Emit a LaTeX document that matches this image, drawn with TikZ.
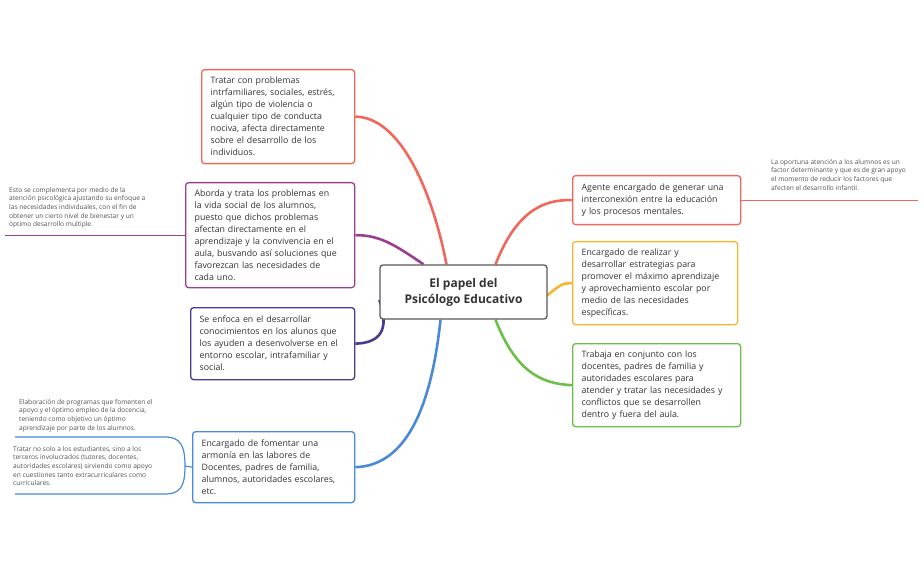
\documentclass[tikz,border=0pt]{standalone}
\usepackage{fontspec}
\setmainfont{Open Sans}
\usetikzlibrary{backgrounds}
\definecolor{cA}{HTML}{F2675B}
\definecolor{cB}{HTML}{9A3F8F}
\definecolor{cC}{HTML}{4A3A90}
\definecolor{cD}{HTML}{4A89D6}
\definecolor{cE}{HTML}{F2675B}
\definecolor{cF}{HTML}{F5B730}
\definecolor{cG}{HTML}{6CC04A}
\definecolor{tx}{HTML}{333333}
\begin{document}
\begin{tikzpicture}[x=1pt,y=-1pt,
  box/.style={draw=#1,line width=1.3pt,rounded corners=3pt,fill=white,anchor=north west,inner xsep=9pt,inner ysep=6pt,align=left,font=\fontsize{8.8}{12}\selectfont,text=tx},
  note/.style={anchor=north west,inner sep=0pt,align=left,font=\fontsize{6.6}{8.6}\selectfont,text=tx!85},
  branch/.style={draw=#1,line width=2.6pt},
  tail/.style={draw=#1,line width=1.2pt}]
\useasboundingbox (0,0) rectangle (924,572);
\node[draw=gray!70!black,line width=1.3pt,rounded corners=3pt,fill=white,minimum width=167pt,minimum height=54pt,align=center,font=\fontsize{12}{16}\selectfont\bfseries,text=tx] (c) at (463.5,292) {El papel del\\Psicólogo Educativo};
\node[box=cA,text width=135pt,minimum height=94pt] (a) at (201,69) {Tratar con problemas\\intrfamiliares, sociales, estrés,\\algún tipo de violencia o\\cualquier tipo de conducta\\nociva, afecta directamente\\sobre el desarrollo de los\\individuos.};
\node[box=cB,text width=151pt,minimum height=105pt] (b) at (185,182) {Aborda y trata los problemas en\\la vida social de los alumnos,\\puesto que dichos problemas\\afectan directamente en el\\aprendizaje y la convivencia en el\\aula, busvando así soluciones que\\favorezcan las necesidades de\\cada uno.};
\node[box=cC,text width=146pt,minimum height=72pt] (cc) at (190,307) {Se enfoca en el desarrollar\\conocimientos en los alunos que\\los ayuden a desenvolverse en el\\entorno escolar, intrafamiliar y\\social.};
\node[box=cD,text width=144pt,minimum height=71pt] (d) at (192,431) {Encargado de fomentar una\\armonía en las labores de\\Docentes, padres de familia,\\alumnos, autoridades escolares,\\etc.};
\node[box=cE,text width=150pt,minimum height=49pt] (e) at (572,175) {Agente encargado de generar una\\interconexión entre la educación\\y los procesos mentales.};
\node[box=cF,text width=147pt,minimum height=83pt] (f) at (572,241) {Encargado de realizar y\\desarrollar estrategias para\\promover el máximo aprendizaje\\y aprovechamiento escolar por\\medio de las necesidades\\específicas.};
\node[box=cG,text width=150pt,minimum height=83pt] (g) at (572,343) {Trabaja en conjunto con los\\docentes, padres de familia y\\autoridades escolares para\\atender y tratar las necesidades y\\conflictos que se desarrollen\\dentro y fuera del aula.};
\begin{scope}[on background layer]
\draw[branch=cA] ([xshift=-17pt]c.north) .. controls (432,190) and (400,117) .. (a.east);
\draw[branch=cB] ([xshift=-40pt]c.north) .. controls (395,245) and (380,235) .. (b.east);
\draw[branch=cC] ([yshift=-8pt]c.west) .. controls (390,330) and (380,343) .. (cc.east);
\draw[branch=cD] ([xshift=-23pt]c.south) .. controls (430,420) and (400,466) .. (d.east);
\draw[branch=cE] ([xshift=32pt]c.north) .. controls (515,215) and (540,199) .. (e.west);
\draw[branch=cF] ([xshift=-4pt,yshift=-6pt]c.east) .. controls (560,286) and (560,283) .. (f.west);
\draw[branch=cG] ([xshift=32pt]c.south) .. controls (515,370) and (540,384) .. (g.west);
\end{scope}
\coordinate (bl) at (5,0);
\draw[tail=cB] (b.west) -- (b.west -| bl);
\node[note] (nb) at (9,187) {Esto se complementa por medio de la\\atención psicológica ajustando su enfoque a\\las necesidades individuales, con el fin de\\obtener un cierto nivel de bienestar y un\\óptimo desarrollo multiple.};
\coordinate (el) at (918,0);
\draw[tail=cE] (e.east) -- (e.east -| el);
\node[note] (ne) at (771,159) {La oportuna atención a los alumnos es un\\factor determinante y que es de gran apoyo\\el momento de reducir los factores que\\afecten el desarrollo infantil.};
\coordinate (d1) at (15,437);
\coordinate (d2) at (15,494);
\coordinate (dm) at (185,466);
\draw[tail=cD] (d.west) -- (dm);
\draw[tail=cD] (d1) -- (165,437) .. controls (180,437) and (185,445) .. (dm) .. controls (185,487) and (180,494) .. (165,494) -- (d2);
\node[note] (nd1) at (19,399) {Elaboración de programas que fomenten el\\apoyo y el óptimo empleo de la docencia,\\teniendo como objetivo un óptimo\\aprendizaje por parte de los alumnos.};
\node[note] (nd2) at (13,446) {Tratar no solo a los estudiantes, sino a los\\terceros involucrados (tutores, docentes,\\autoridades escolares) sirviendo como apoyo\\en cuestiones tanto extracurriculares como\\curriculares.};
\end{tikzpicture}
\end{document}
